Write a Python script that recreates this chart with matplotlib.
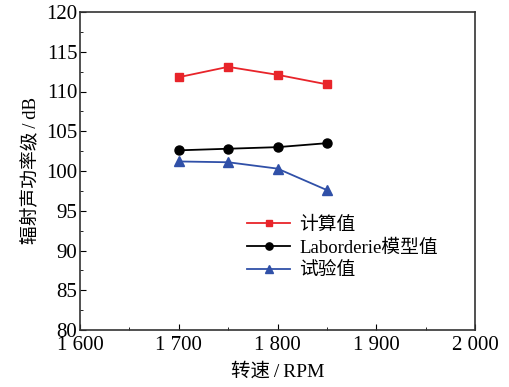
import numpy as np
import matplotlib
matplotlib.use("Agg")
import matplotlib.pyplot as plt
from matplotlib.ticker import MultipleLocator, FuncFormatter

plt.rcParams['font.family'] = ['Liberation Serif', 'Noto Sans CJK SC']
plt.rcParams['xtick.direction'] = 'in'
plt.rcParams['ytick.direction'] = 'in'

rpm = [1700, 1750, 1800, 1850]
calc = [111.8, 113.1, 112.1, 110.9]
labord = [102.6, 102.8, 103.0, 103.5]
test = [101.2, 101.1, 100.3, 97.6]
names = ['计算值', 'Laborderie模型值', '试验值']

fig = plt.figure(figsize=(5.09, 3.87), dpi=100)
ax = fig.add_axes([80/509, 57/387, 395/509, 318/387])

ax.plot(rpm, calc, color='#e8242a', marker='s', markersize=6, lw=1.3, label=names[0])
ax.plot(rpm, labord, color='black', marker='o', markersize=6.5, lw=1.3, label=names[1])
ax.plot(rpm, test, color='#3050a8', marker='^', markersize=7, lw=1.3, label=names[2])

ax.set_xlim(1600, 2000)
ax.set_ylim(80, 120)
ax.xaxis.set_major_locator(MultipleLocator(100))
ax.xaxis.set_minor_locator(MultipleLocator(50))
ax.yaxis.set_major_locator(MultipleLocator(5))
ax.yaxis.set_minor_locator(MultipleLocator(2.5))
ax.xaxis.set_major_formatter(FuncFormatter(lambda v, p: '{:,}'.format(int(v)).replace(',', ' ')))
ax.tick_params(which='major', length=4, labelsize=15)
ax.tick_params(axis='x', pad=4)
ax.tick_params(axis='y', pad=2)
ax.tick_params(which='minor', length=2.5)
for s in ax.spines.values():
    s.set_linewidth(1.2)
    s.set_color('#333333')

ax.set_xlabel('转速\u2009/\u2009RPM', fontsize=14, labelpad=6)
ax.set_ylabel('辐射声功率级\u2009/\u2009dB', fontsize=13.5, labelpad=5)

leg = ax.legend(loc='upper left', bbox_to_anchor=(0.38, 0.41), frameon=False,
                fontsize=13.5, handlelength=2.3, handletextpad=0.5, labelspacing=0.3,
                markerscale=0.8)

fig.savefig('out.png', dpi=100)
